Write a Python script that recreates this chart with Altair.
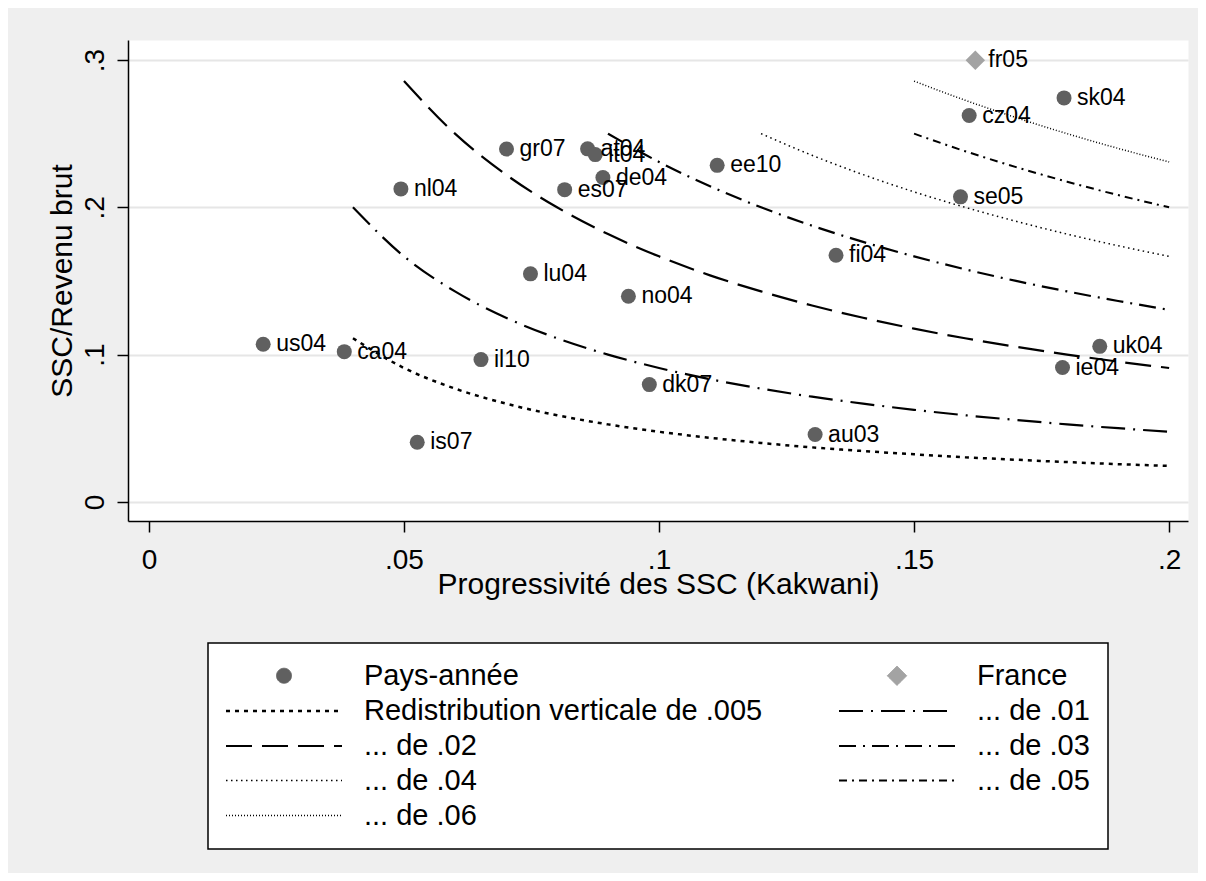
import json
import altair as alt
import pandas as pd

# ---------------- data ----------------
COUNTRIES = ["us04", "ca04", "nl04", "is07", "il10", "gr07", "lu04", "es07", "at04", "it04", "de04",
             "no04", "dk07", "ee10", "au03", "fi04", "se05", "cz04", "ie04", "sk04", "uk04", "fr05"]
KAKWANI = [0.0224, 0.0383, 0.0494, 0.0526, 0.0651, 0.0701, 0.0748, 0.0815, 0.0860, 0.0875, 0.0890,
           0.0940, 0.0981, 0.1114, 0.1306, 0.1347, 0.1591, 0.1608, 0.1791, 0.1794, 0.1864, 0.1620]
SSC_RATIO = [0.1070, 0.1020, 0.2125, 0.0405, 0.0966, 0.2396, 0.1548, 0.2120, 0.2397, 0.2358, 0.2202,
             0.1396, 0.0796, 0.2285, 0.0457, 0.1674, 0.2071, 0.2623, 0.0912, 0.2743, 0.1056, 0.2998]
GROUP = ["Pays-année"] * 21 + ["France"]

CURVE_NAMES = ["Redistribution verticale de .005", "... de .01", "... de .02", "... de .03",
               "... de .04", "... de .05", "... de .06"]

X_005 = [0.04, 0.05, 0.06, 0.07, 0.08, 0.09, 0.10, 0.11, 0.12, 0.13, 0.14, 0.15, 0.16, 0.17, 0.18, 0.19, 0.20]
Y_005 = [0.1111, 0.0909, 0.0769, 0.0667, 0.0588, 0.0526, 0.0476, 0.0435, 0.0400, 0.0370, 0.0345, 0.0323,
         0.0303, 0.0286, 0.0270, 0.0256, 0.0244]
X_01 = [0.04, 0.05, 0.06, 0.07, 0.08, 0.09, 0.10, 0.11, 0.12, 0.13, 0.14, 0.15, 0.16, 0.17, 0.18, 0.19, 0.20]
Y_01 = [0.2000, 0.1667, 0.1429, 0.1250, 0.1111, 0.1000, 0.0909, 0.0833, 0.0769, 0.0714, 0.0667, 0.0625,
        0.0588, 0.0556, 0.0526, 0.0500, 0.0476]
X_02 = [0.05, 0.06, 0.07, 0.08, 0.09, 0.10, 0.11, 0.12, 0.13, 0.14, 0.15, 0.16, 0.17, 0.18, 0.19, 0.20]
Y_02 = [0.2857, 0.2500, 0.2222, 0.2000, 0.1818, 0.1667, 0.1538, 0.1429, 0.1333, 0.1250, 0.1176, 0.1111,
        0.1053, 0.1000, 0.0952, 0.0909]
X_03 = [0.09, 0.10, 0.11, 0.12, 0.13, 0.14, 0.15, 0.16, 0.17, 0.18, 0.19, 0.20]
Y_03 = [0.2500, 0.2308, 0.2143, 0.2000, 0.1875, 0.1765, 0.1667, 0.1579, 0.1500, 0.1429, 0.1364, 0.1304]
X_04 = [0.12, 0.13, 0.14, 0.15, 0.16, 0.17, 0.18, 0.19, 0.20]
Y_04 = [0.2500, 0.2353, 0.2222, 0.2105, 0.2000, 0.1905, 0.1818, 0.1739, 0.1667]
X_05 = [0.15, 0.16, 0.17, 0.18, 0.19, 0.20]
Y_05 = [0.2500, 0.2381, 0.2273, 0.2174, 0.2083, 0.2000]
X_06 = [0.15, 0.16, 0.17, 0.18, 0.19, 0.20]
Y_06 = [0.2857, 0.2727, 0.2609, 0.2500, 0.2400, 0.2308]

X_TICKS = [0, 0.05, 0.1, 0.15, 0.2]
X_TICK_LABELS = ["0", ".05", ".1", ".15", ".2"]
Y_TICKS = [0, 0.1, 0.2, 0.3]
Y_TICK_LABELS = ["0", ".1", ".2", ".3"]

# ---------------- styles ----------------
SERIES = ["Pays-année", "France"] + CURVE_NAMES
COLOR_RANGE = ["#606060", "#a3a3a3"] + ["#000000"] * 7
LINE_SYMBOL = "M-4,0H4"  # long horizontal stroke used as legend key for the curves
SHAPE_RANGE = ["circle", "diamond"] + [LINE_SYMBOL] * 7
SIZE_RANGE = [225, 380] + [841] * 7
DASH_RANGE = [[1, 0], [1, 0], [4, 5], [24, 8, 2, 8], [26, 10], [17, 7, 2, 7], [1.5, 3.5], [8, 5, 2, 5], [1, 2]]
WIDTH_RANGE = [1, 1, 2.5, 2.2, 2.2, 2.2, 1.5, 2, 1.5]
FONT = "Liberation Sans"

# ---------------- tables ----------------
pts = pd.DataFrame({"label": COUNTRIES, "k": KAKWANI, "t": SSC_RATIO, "series": GROUP})

curve_xy = [(X_005, Y_005), (X_01, Y_01), (X_02, Y_02), (X_03, Y_03), (X_04, Y_04), (X_05, Y_05), (X_06, Y_06)]
rows = []
for name, (xs, ys) in zip(CURVE_NAMES, curve_xy):
    for xv, yv in zip(xs, ys):
        rows.append({"series": name, "k": xv, "t": yv})
curves = pd.DataFrame(rows)

x_expr = f"{json.dumps(X_TICK_LABELS)}[indexof({json.dumps(X_TICKS)}, datum.value)]"
y_expr = f"{json.dumps(Y_TICK_LABELS)}[indexof({json.dumps(Y_TICKS)}, datum.value)]"

W, H = 1060, 481

x_enc = alt.X("k:Q",
              scale=alt.Scale(domain=[-0.0041, 0.2037], nice=False, zero=False),
              axis=alt.Axis(title="Progressivité des SSC (Kakwani)", values=X_TICKS, labelExpr=x_expr,
                            grid=False, tickSize=11, labelPadding=36, labelBaseline="alphabetic",
                            labelFlush=False, labelFontSize=28,
                            titleBaseline="alphabetic", titleX=W / 2, titleY=72, titleFontSize=30))
y_enc = alt.Y("t:Q",
              scale=alt.Scale(domain=[-0.013, 0.3136], nice=False, zero=False),
              axis=alt.Axis(title="SSC/Revenu brut", values=Y_TICKS, labelExpr=y_expr,
                            grid=True, gridColor="#e6e6e6", gridWidth=2,
                            tickSize=11, labelAngle=270, labelAlign="center", labelBaseline="alphabetic",
                            labelPadding=14, labelFlush=False, labelFontSize=28,
                            titleAngle=270, titleBaseline="alphabetic", titleX=-57, titleY=H / 2,
                            titleFontSize=30))

leg = alt.Legend(title=None, orient="none", legendX=80, legendY=603, direction="horizontal",
                 columns=2, columnPadding=71, rowPadding=4, padding=18,
                 symbolOffset=42, labelOffset=64,
                 labelFont=FONT, labelFontSize=29, labelColor="black", labelLimit=1000,
                 fillColor="white", strokeColor="black")

color_enc = alt.Color("series:N", scale=alt.Scale(domain=SERIES, range=COLOR_RANGE), legend=leg)

lines = alt.Chart(curves).mark_line(interpolate="monotone").encode(
    x=x_enc,
    y=y_enc,
    color=color_enc,
    strokeDash=alt.StrokeDash("series:N", scale=alt.Scale(domain=SERIES, range=DASH_RANGE), legend=leg),
    strokeWidth=alt.StrokeWidth("series:N", scale=alt.Scale(type="ordinal", domain=SERIES, range=WIDTH_RANGE),
                                legend=leg),
)

points = alt.Chart(pts).mark_point(filled=True, opacity=1).encode(
    x="k:Q",
    y="t:Q",
    color=color_enc,
    shape=alt.Shape("series:N", scale=alt.Scale(domain=SERIES, range=SHAPE_RANGE), legend=leg),
    size=alt.Size("series:N", scale=alt.Scale(type="ordinal", domain=SERIES, range=SIZE_RANGE), legend=leg),
)

labels = alt.Chart(pts).mark_text(font=FONT, fontSize=23, align="left", baseline="middle",
                                  dx=13, color="black").encode(
    x="k:Q", y="t:Q", text="label:N")

chart = alt.layer(lines, points, labels).properties(
    width=W, height=H,
    autosize=alt.AutoSizeParams(type="none"),
    padding={"left": 120, "top": 32, "right": 10, "bottom": 352},
).configure(
    background="#efefef"
).configure_view(
    fill="white", stroke="transparent"
).configure_axis(
    labelFont=FONT, titleFont=FONT, labelColor="black", titleColor="black",
    titleFontWeight="normal", domainColor="black", domainWidth=1.5,
    tickColor="black", tickWidth=1.5
).configure_legend(
    strokeWidth=1.5
)

chart.save("out.html", embed_options={"renderer": "svg", "actions": False})
